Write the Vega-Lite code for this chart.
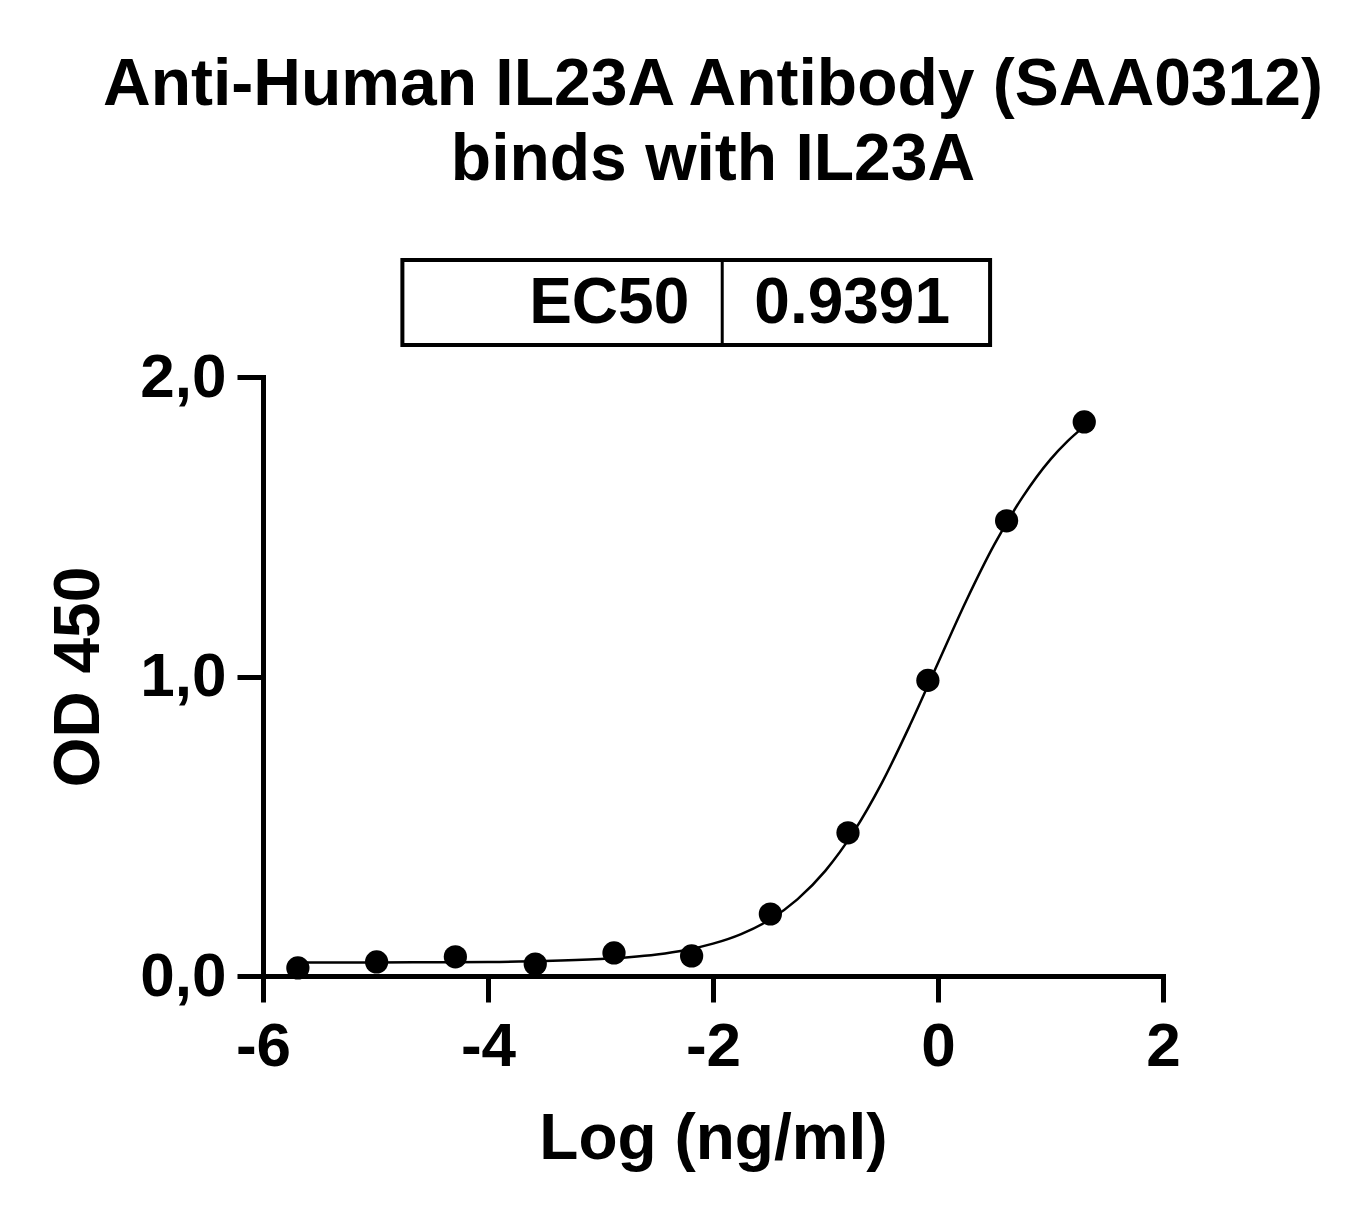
{
  "$schema": "https://vega.github.io/schema/vega-lite/v6.json",
  "width": 900,
  "height": 599,
  "autosize": {"type": "none"},
  "padding": {"left": 263, "top": 377, "right": 205, "bottom": 248},
  "background": "white",
  "config": {
    "font": "Liberation Sans",
    "view": {"stroke": null},
    "axis": {"grid": false, "domainColor": "black", "tickColor": "black", "labelColor": "black", "titleColor": "black", "domainWidth": 5, "tickWidth": 5, "tickSize": 26, "labelFont": "Liberation Sans", "titleFont": "Liberation Sans", "labelFontWeight": "bold", "titleFontWeight": "bold", "labelFontSize": 62, "titleFontSize": 64, "domainCap": "square", "labelFlush": false}
  },
  "title": {
    "text": ["Anti-Human IL23A Antibody (SAA0312)", "binds with IL23A"],
    "fontSize": 66,
    "fontWeight": "bold",
    "font": "Liberation Sans",
    "color": "black",
    "lineHeight": 75,
    "anchor": "middle",
    "offset": 64
  },
  "datasets": {
    "points": [
      {"logc": -5.69, "od": 0.027},
      {"logc": -4.99, "od": 0.047},
      {"logc": -4.29, "od": 0.064},
      {"logc": -3.58, "od": 0.040},
      {"logc": -2.88, "od": 0.077},
      {"logc": -2.19, "od": 0.067},
      {"logc": -1.49, "od": 0.207},
      {"logc": -0.80, "od": 0.478},
      {"logc": -0.09, "od": 0.987},
      {"logc": 0.61, "od": 1.52},
      {"logc": 1.30, "od": 1.85}
    ],
    "curve": [
      {"logc": -5.69, "od": 0.045},
      {"logc": -5.0, "od": 0.045},
      {"logc": -4.5, "od": 0.046},
      {"logc": -4.0, "od": 0.047},
      {"logc": -3.5, "od": 0.050},
      {"logc": -3.0, "od": 0.057},
      {"logc": -2.75, "od": 0.063},
      {"logc": -2.5, "od": 0.072},
      {"logc": -2.25, "od": 0.086},
      {"logc": -2.0, "od": 0.108},
      {"logc": -1.75, "od": 0.140},
      {"logc": -1.5, "od": 0.187},
      {"logc": -1.25, "od": 0.256},
      {"logc": -1.0, "od": 0.352},
      {"logc": -0.75, "od": 0.481},
      {"logc": -0.5, "od": 0.644},
      {"logc": -0.25, "od": 0.837},
      {"logc": 0.0, "od": 1.045},
      {"logc": 0.25, "od": 1.252},
      {"logc": 0.5, "od": 1.440},
      {"logc": 0.75, "od": 1.598},
      {"logc": 1.0, "od": 1.725},
      {"logc": 1.15, "od": 1.785},
      {"logc": 1.3, "od": 1.835}
    ],
    "ec50": [
      {"label": "EC50", "value": "0.9391"}
    ]
  },
  "layer": [
    {
      "data": {"name": "curve"},
      "mark": {"type": "line", "color": "black", "strokeWidth": 2.5, "interpolate": "monotone"},
      "encoding": {
        "x": {"field": "logc", "type": "quantitative", "scale": {"domain": [-6, 2], "nice": false, "zero": false},
          "axis": {"values": [-6, -4, -2, 0, 2], "title": "Log (ng/ml)", "labelExpr": "toString(datum.value)", "labelPadding": 14, "titlePadding": 30}},
        "y": {"field": "od", "type": "quantitative", "scale": {"domain": [0, 2], "nice": false},
          "axis": {"values": [0, 1, 2], "title": "OD 450", "labelExpr": "replace(format(datum.value, '.1f'), '.', ',')", "labelPadding": 11, "titlePadding": 28}}
      }
    },
    {
      "data": {"name": "points"},
      "mark": {"type": "point", "filled": true, "color": "black", "size": 540, "opacity": 1},
      "encoding": {
        "x": {"field": "logc", "type": "quantitative"},
        "y": {"field": "od", "type": "quantitative"}
      }
    },
    {
      "data": {"name": "ec50"},
      "mark": {"type": "rect", "fill": null, "fillOpacity": 0, "stroke": "black", "strokeWidth": 4},
      "encoding": {
        "x": {"datum": -4.761, "type": "quantitative"},
        "x2": {"datum": 0.463},
        "y": {"datum": 2.391, "type": "quantitative"},
        "y2": {"datum": 2.107}
      }
    },
    {
      "data": {"name": "ec50"},
      "mark": {"type": "rule", "color": "black", "strokeWidth": 3},
      "encoding": {
        "x": {"datum": -1.918, "type": "quantitative"},
        "y": {"datum": 2.391, "type": "quantitative"},
        "y2": {"datum": 2.107}
      }
    },
    {
      "data": {"name": "ec50"},
      "mark": {"type": "text", "align": "right", "baseline": "middle", "fontSize": 64, "fontWeight": "bold", "font": "Liberation Sans", "color": "black"},
      "encoding": {
        "x": {"datum": -2.211, "type": "quantitative"},
        "y": {"datum": 2.244, "type": "quantitative"},
        "text": {"field": "label"}
      }
    },
    {
      "data": {"name": "ec50"},
      "mark": {"type": "text", "align": "left", "baseline": "middle", "fontSize": 64, "fontWeight": "bold", "font": "Liberation Sans", "color": "black"},
      "encoding": {
        "x": {"datum": -1.633, "type": "quantitative"},
        "y": {"datum": 2.244, "type": "quantitative"},
        "text": {"field": "value"}
      }
    }
  ]
}
